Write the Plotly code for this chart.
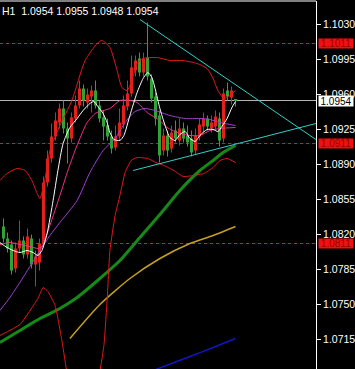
import plotly.graph_objects as go

# ---------------- data ----------------
bar_index = list(range(59))
opens = [1.0828,1.0816,1.0810,1.0786,1.0806,1.0814,1.0800,1.0816,1.0790,1.0792,
         1.0811,1.0872,1.0896,1.0918,1.0932,1.0946,1.0926,1.0916,1.0936,1.0949,
         1.0966,1.0952,1.0958,1.0964,1.0949,1.0937,1.0929,1.0918,1.0907,1.0918,
         1.0930,1.0948,1.0961,1.0984,1.0996,1.0982,1.0997,1.0976,1.0958,1.0939,
         1.0904,1.0919,1.0906,1.0924,1.0914,1.0926,1.0919,1.0916,1.0904,1.0918,
         1.0928,1.0936,1.0926,1.0928,1.0936,1.0916,1.0964,1.0957,1.0954]
highs = [1.0836,1.0822,1.0814,1.0812,1.0834,1.0818,1.0826,1.0820,1.0804,1.0816,
         1.0878,1.0904,1.0931,1.0942,1.0951,1.0954,1.0932,1.0942,1.0959,1.0974,
         1.0970,1.0966,1.0969,1.0974,1.0954,1.0944,1.0936,1.0924,1.0929,1.0946,
         1.0959,1.0974,1.0999,1.0999,1.1002,1.1002,1.1032,1.0980,1.0962,1.0944,
         1.0926,1.0924,1.0929,1.0934,1.0936,1.0932,1.0929,1.0924,1.0926,1.0936,
         1.0942,1.0939,1.0939,1.0944,1.0942,1.0966,1.0972,1.0968,1.0955]
lows = [1.0812,1.0802,1.0780,1.0782,1.0802,1.0796,1.0796,1.0786,1.0768,1.0784,
        1.0807,1.0868,1.0892,1.0914,1.0926,1.0921,1.0891,1.0912,1.0932,1.0946,
        1.0948,1.0946,1.0942,1.0946,1.0932,1.0914,1.0914,1.0901,1.0904,1.0914,
        1.0926,1.0944,1.0958,1.0978,1.0978,1.0978,1.0974,1.0952,1.0929,1.0892,
        1.0899,1.0898,1.0902,1.0912,1.0909,1.0912,1.0908,1.0898,1.0900,1.0914,
        1.0922,1.0924,1.0922,1.0924,1.0908,1.0912,1.0954,1.0950,1.0948]
closes = [1.0816,1.0806,1.0784,1.0806,1.0814,1.0800,1.0818,1.0790,1.0798,1.0811,
          1.0872,1.0896,1.0918,1.0934,1.0946,1.0926,1.0916,1.0937,1.0949,1.0966,
          1.0954,1.0960,1.0964,1.0949,1.0936,1.0928,1.0918,1.0906,1.0918,1.0932,
          1.0949,1.0961,1.0987,1.0994,1.0982,1.0996,1.0978,1.0956,1.0936,1.0899,
          1.0919,1.0904,1.0922,1.0916,1.0926,1.0916,1.0912,1.0902,1.0919,1.0930,
          1.0936,1.0928,1.0932,1.0938,1.0914,1.0961,1.0958,1.0964,1.0954]

# indicator lines (bar position, price)
white_x = [-0.9,0.9,2.4,4.1,5.9,7.4,8.6,9.6,10.9,12.4,13.6,14.9,16.6,18.4,19.9,21.6,22.6,23.6,
           24.9,25.9,26.6,27.6,29.1,30.1,31.6,33.4,34.9,36.1,37.1,37.9,39.1,40.4,41.6,42.9,
           44.1,45.4,46.6,47.9,49.1,50.9,52.4,53.6,54.6,55.9,57.1,58.0]
white_y = [1.0812,1.0807,1.0804,1.0802,1.0804,1.0802,1.0799,1.0804,1.0821,1.0854,1.0884,1.0911,
           1.0927,1.0936,1.0944,1.0951,1.0953,1.0948,1.0941,1.0932,1.0922,1.0915,1.0914,1.0919,
           1.0939,1.0962,1.0976,1.0982,1.0977,1.0966,1.0946,1.0929,1.0917,1.0914,1.0920,1.0923,
           1.0916,1.0913,1.0919,1.0925,1.0925,1.0923,1.0928,1.0936,1.0947,1.0953]
pink_x = [-0.9,1.6,4.1,6.6,8.6,9.6,11.6,14.1,16.1,17.9,19.1,20.9,22.9,24.1,26.6,29.1,31.6,33.4,
          35.9,37.9,39.1,40.9,44.1,46.6,49.1,51.6,54.1,58.0]
pink_y = [1.0810,1.0812,1.0810,1.0808,1.0806,1.0808,1.0829,1.0859,1.0884,1.0904,1.0916,1.0932,
          1.0941,1.0943,1.0946,1.0954,1.0954,1.0952,1.0942,1.0937,1.0934,1.0927,1.0921,1.0919,
          1.0919,1.0924,1.0926,1.0927]
purple_x = [-0.9,1.6,4.1,6.6,9.1,11.6,14.1,18.4,21.6,24.9,27.9,30.4,32.9,35.4,37.9,41.6,45.4,
            49.1,51.6,54.1,58.0]
purple_y = [1.0744,1.0757,1.0772,1.0788,1.0804,1.0819,1.0832,1.0854,1.0882,1.0904,1.0916,1.0932,
            1.0943,1.0946,1.0944,1.0939,1.0936,1.0936,1.0935,1.0932,1.0929]
bb_up_x = [-0.9,0.9,3.4,5.4,7.1,8.4,9.1,10.4,11.6,14.1,17.1,20.4,23.4,24.6,26.6,28.4,29.6,30.9,
           32.1,33.4,34.9,38.4,41.6,44.9,48.4,50.9,52.4,53.6,55.1,56.6,58.0]
bb_up_y = [1.0874,1.0881,1.0886,1.0884,1.0874,1.0861,1.0856,1.0876,1.0904,1.0929,1.0954,1.0994,
           1.1011,1.1014,1.1007,1.0984,1.0967,1.0964,1.0974,1.0991,1.0996,1.0997,1.0994,1.0994,
           1.0991,1.0986,1.0976,1.0964,1.0956,1.0959,1.0964]
bb_lo_x = [-0.9,4.1,8.6,9.9,11.1,12.9,14.6,16.6,20.4,23.6,25.1,25.9,26.6,27.9,29.1,30.4,31.9,
           33.4,36.1,38.1,40.1,42.6,44.9,47.6,50.1,52.4,54.1,55.9,58.0]
bb_lo_y = [1.0719,1.0730,1.0756,1.0767,1.0763,1.0749,1.0714,1.0669,1.0654,1.0674,1.0709,1.0754,
           1.0804,1.0839,1.0859,1.0882,1.0894,1.0897,1.0896,1.0892,1.0889,1.0884,1.0878,1.0879,
           1.0881,1.0887,1.0894,1.0896,1.0892]
green_x = [-0.9,4.1,9.1,14.1,18.4,24.1,29.1,34.1,39.1,44.1,49.1,52.4,54.9,58.0]
green_y = [1.0712,1.0724,1.0736,1.0746,1.0757,1.0776,1.0794,1.0817,1.0840,1.0864,1.0884,1.0894,
           1.0902,1.0909]
yellow_x = [16.6,24.1,31.6,39.1,46.6,52.4,58.0]
yellow_y = [1.0716,1.0750,1.0776,1.0796,1.0811,1.0819,1.0828]
blue_x = [38.1,46.6,52.4,58.0]
blue_y = [1.0685,1.0698,1.0707,1.0716]

trend_upper_x = [34.1, 78.1]
trend_upper_y = [1.1035, 1.0915]
trend_lower_x = [32.4, 78.1]
trend_lower_y = [1.0884, 1.0931]

level_prices = [1.1011, 1.0911, 1.0811]
bid_price = 1.0954
axis_ticks = [1.0715, 1.0750, 1.0785, 1.0820, 1.0855, 1.0890, 1.0925, 1.0960, 1.0995, 1.1030]
header_text = "H1  1.0954 1.0955 1.0948 1.0954"

# ---------------- styling ----------------
UP = "#E3211C"
DOWN = "#2FA336"
FONT = "Liberation Sans"
FSIZE = 10.5

fig = go.Figure()

for color, cond in ((UP, lambda o, c: c > o), (DOWN, lambda o, c: c <= o)):
    wx, wy = [], []
    bx, bb, bh = [], [], []
    for i, o, h, l, c in zip(bar_index, opens, highs, lows, closes):
        if cond(o, c):
            wx += [i, i, None]
            wy += [l, h, None]
            bx.append(i)
            bb.append(min(o, c))
            bh.append(max(abs(c - o), 0.0001))
    fig.add_trace(go.Scatter(x=wx, y=wy, mode="lines", line=dict(color=color, width=1),
                             hoverinfo="skip"))
    fig.add_trace(go.Bar(x=bx, y=bh, base=bb, width=0.75, marker=dict(color=color, line=dict(width=0)),
                         hoverinfo="skip"))

def add_line(xs, ys, color, width=1, smoothing=0.6):
    fig.add_trace(go.Scatter(x=xs, y=ys, mode="lines",
                             line=dict(color=color, width=width, shape="spline", smoothing=smoothing),
                             hoverinfo="skip"))

add_line(blue_x, blue_y, "#1414C8", 1.5)
add_line(yellow_x, yellow_y, "#C8A01E", 1.5)
add_line(green_x, green_y, "#168A16", 3)
add_line(bb_up_x, bb_up_y, "#E01818", 1)
add_line(bb_lo_x, bb_lo_y, "#E01818", 1, 0.4)
add_line(purple_x, purple_y, "#A040D0", 1)
add_line(pink_x, pink_y, "#F0308C", 1)
add_line(white_x, white_y, "#FFFFFF", 1)

fig.add_trace(go.Scatter(x=trend_upper_x, y=trend_upper_y, mode="lines",
                         line=dict(color="#30D0C8", width=1), hoverinfo="skip"))
fig.add_trace(go.Scatter(x=trend_lower_x, y=trend_lower_y, mode="lines",
                         line=dict(color="#30D0C8", width=1), hoverinfo="skip"))

shapes = []
for p in level_prices:
    shapes.append(dict(type="line", xref="paper", x0=0, x1=1, yref="y", y0=p, y1=p,
                       line=dict(color="#E01818", width=1, dash="3px,3px"), layer="below"))
shapes.append(dict(type="line", xref="paper", x0=0, x1=1, yref="y", y0=bid_price, y1=bid_price,
                   line=dict(color="#B4B4B4", width=1), layer="below"))
shapes.append(dict(type="line", xref="paper", x0=0, x1=1, yref="paper", y0=1, y1=1,
                   line=dict(color="#FFFFFF", width=1)))

annotations = []
for p in level_prices:
    annotations.append(dict(xref="paper", x=1, xshift=2, xanchor="left", yref="y", y=p,
                            text=f"{p:.4f}", showarrow=False, bgcolor="#F01010",
                            font=dict(family=FONT, size=10, color="#9A0000"),
                            width=34, height=9, borderpad=0, align="center"))
annotations.append(dict(xref="paper", x=1, xshift=2, xanchor="left", yref="y", y=bid_price,
                        text=f"{bid_price:.4f}", showarrow=False, bgcolor="#FFFFFF",
                        font=dict(family=FONT, size=10, color="#000000"),
                        width=34, height=10, borderpad=0, align="center"))
annotations.append(dict(xref="paper", x=0, xanchor="left", yref="paper", y=1, yanchor="top",
                        yshift=-2, text=header_text, showarrow=False,
                        font=dict(family=FONT, size=FSIZE, color="#FFFFFF")))

fig.update_layout(
    width=355, height=369, margin=dict(l=0, r=39, t=1, b=0, pad=0),
    paper_bgcolor="#000000", plot_bgcolor="#000000", showlegend=False,
    barmode="overlay", shapes=shapes, annotations=annotations,
    xaxis=dict(range=[-0.875, 78.125], visible=False, showgrid=False, zeroline=False, fixedrange=True),
    yaxis=dict(range=[1.06855, 1.10535], side="right", showgrid=False, zeroline=False,
               tickvals=axis_ticks, ticktext=[f"{v:.4f}" for v in axis_ticks],
               tickfont=dict(family=FONT, size=FSIZE, color="#FFFFFF"),
               ticks="outside", ticklen=4, tickcolor="#FFFFFF", tickwidth=1,
               showline=True, linecolor="#FFFFFF", linewidth=1, fixedrange=True),
)

fig.write_html("out.html")
